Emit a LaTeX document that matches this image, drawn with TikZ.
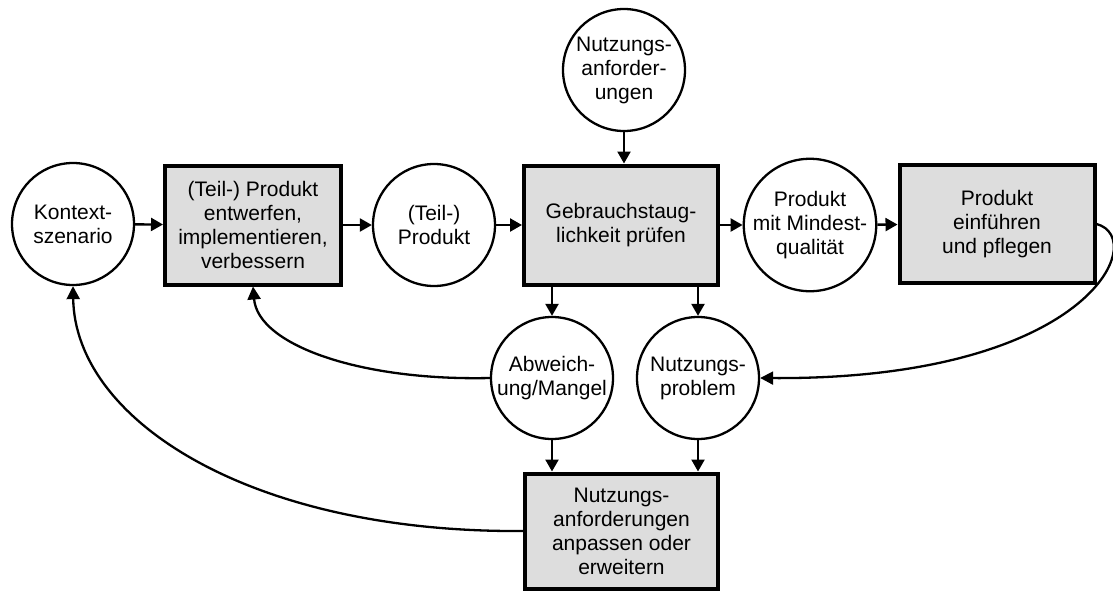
\documentclass[tikz,border=0pt]{standalone}
\usepackage{fontspec}
\setmainfont{Liberation Sans}
\usetikzlibrary{arrows.meta}
\definecolor{boxgray}{RGB}{221,221,221}
\begin{document}
\begin{tikzpicture}[x=1pt,y=-1pt,
  every node/.style={font=\fontsize{21}{24}\selectfont, align=center, inner sep=0pt},
  state/.style={circle, draw, line width=2.3pt, fill=white, minimum size=122pt},
  task/.style={rectangle, draw, line width=4pt, fill=boxgray},
  flow/.style={line width=2.3pt, -{Triangle[length=12pt,width=13pt]}},
  loop/.style={line width=2.3pt, -{Triangle[length=13pt,width=13pt]}}]
\useasboundingbox (0,0) rectangle (1113,592);

% states (circles)
\node[state] (kontext) at (73,224) {Kontext-\\szenario};
\node[state] (teil)    at (434,225) {(Teil-)\\Produkt};
\node[state] (nanf)    at (624,70)  {Nutzungs-\\anforder-\\ungen};
\node[state] (mind)    at (810,225) {Produkt\\mit Mindest-\\qualität};
\node[state] (abw)     at (552,378) {Abweich-\\ung/Mangel};
\node[state] (nprob)   at (698,378) {Nutzungs-\\problem};

% activities (boxes)
\node[task, minimum width=176pt, minimum height=119pt] (entw) at (253,225)
  {(Teil-) Produkt\\entwerfen,\\implementieren,\\verbessern};
\node[task, minimum width=194pt, minimum height=119pt] (pruef) at (621,225)
  {Gebrauchstaug-\\lichkeit prüfen};
\node[task, minimum width=195pt, minimum height=118pt] (einf) at (997,224)
  {Produkt\\einführen\\und pflegen};
\node[task, minimum width=193pt, minimum height=115pt] (anpass) at (621.5,531)
  {Nutzungs-\\anforderungen\\anpassen oder\\erweitern};

% main flow
\draw[flow] (kontext) -- (entw);
\draw[flow] (entw) -- (teil);
\draw[flow] (teil) -- (pruef);
\draw[flow] (pruef) -- (mind);
\draw[flow] (mind) -- (einf);
\draw[flow] (nanf) -- (nanf |- pruef.north);
\draw[flow] (pruef.south -| abw) -- (abw);
\draw[flow] (pruef.south -| nprob) -- (nprob);
\draw[flow] (abw) -- (abw |- anpass.north);
\draw[flow] (nprob) -- (nprob |- anpass.north);

% feedback loops
\draw[loop] (abw.west) .. controls (360,381) and (258,345) .. (entw.south);
\draw[loop] (anpass.west) .. controls (250,533) and (75,420) .. (kontext.south);
\draw[loop] (einf.east) .. controls (1150,238) and (1090,380) .. (nprob.east);
\end{tikzpicture}
\end{document}
